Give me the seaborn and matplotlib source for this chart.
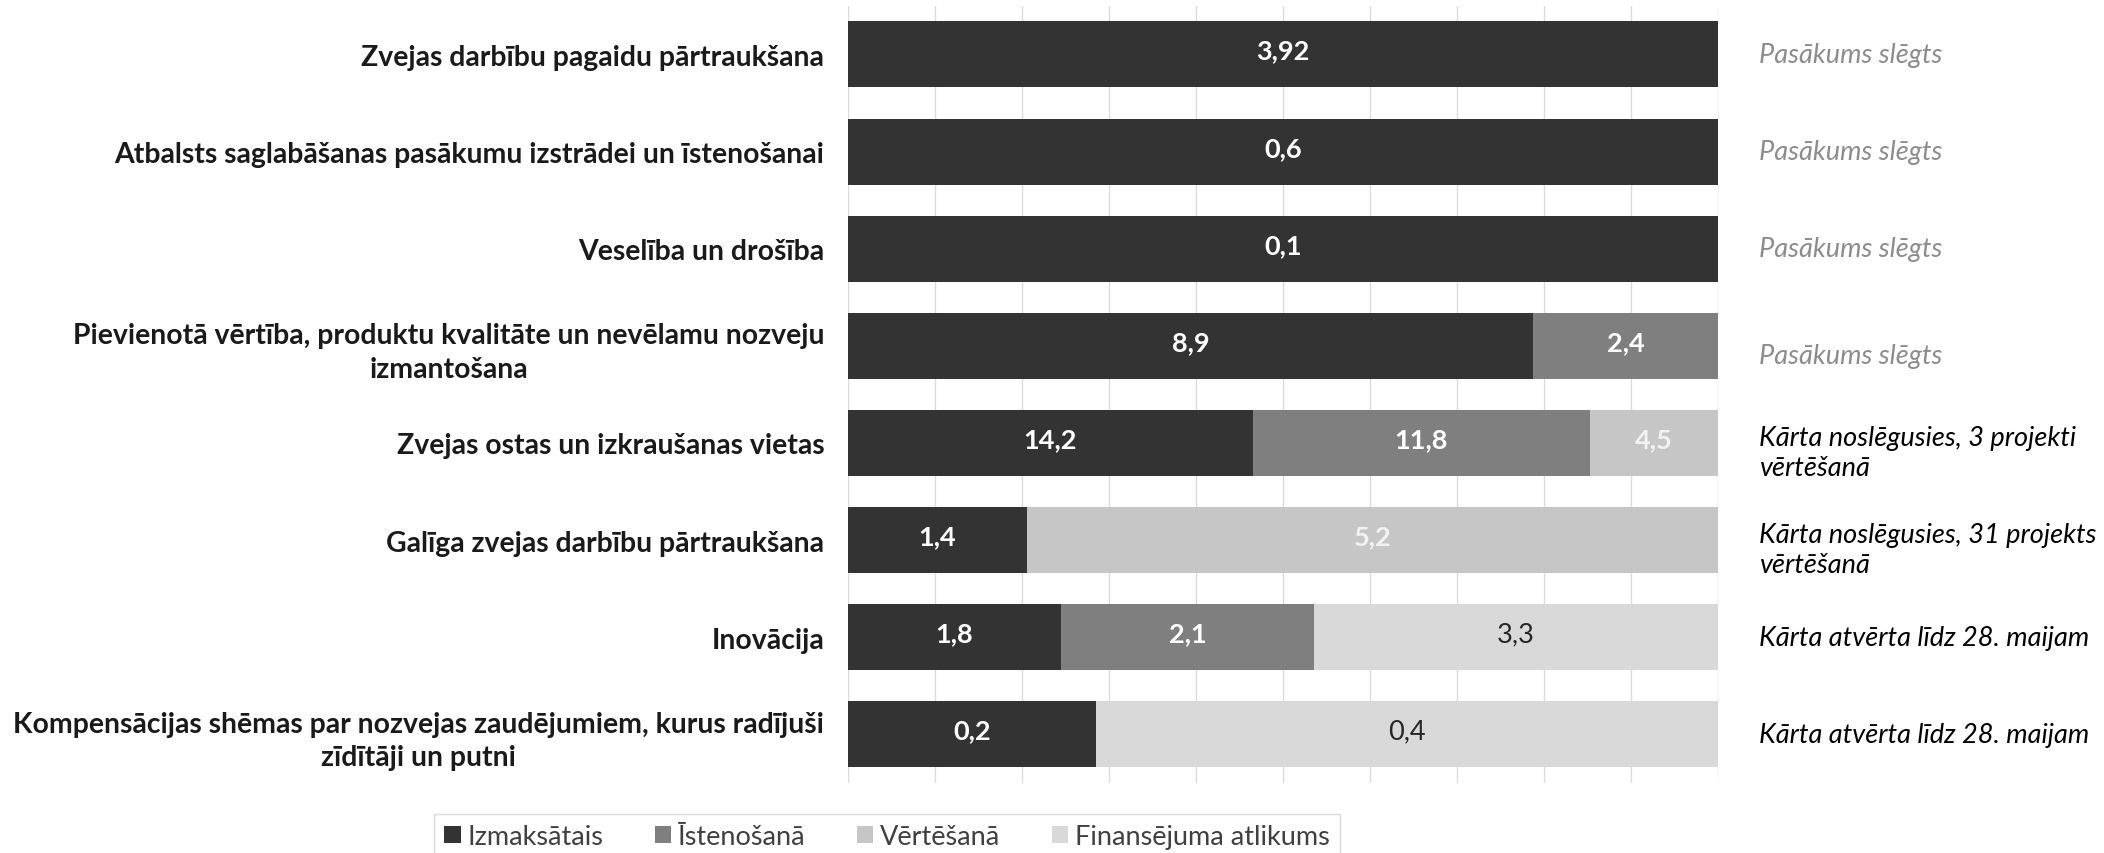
import numpy as np
import pandas as pd
import seaborn as sns
import matplotlib.pyplot as plt
from matplotlib.patches import Patch
import matplotlib.transforms as mtransforms

# categories (top to bottom)
categories = [
    "Zvejas darbību pagaidu pārtraukšana",
    "Atbalsts saglabāšanas pasākumu izstrādei un īstenošanai",
    "Veselība un drošība",
    "Pievienotā vērtība, produktu kvalitāte un nevēlamu nozveju\nizmantošana",
    "Zvejas ostas un izkraušanas vietas",
    "Galīga zvejas darbību pārtraukšana",
    "Inovācija",
    "Kompensācijas shēmas par nozvejas zaudējumiem, kurus radījuši\nzīdītāji un putni",
]

# values, mln EUR
izmaksatais = [3.92, 0.6, 0.1, 8.9, 14.2, 1.36, 1.76, 0.16]
istenosana = [0, 0, 0, 2.4, 11.8, 0, 2.1, 0]
vertesana = [0, 0, 0, 0, 4.5, 5.24, 0, 0]
atlikums = [0, 0, 0, 0, 0, 0, 3.34, 0.4]
label_decimals = [2, 1, 1, 1, 1, 1, 1, 1]

series_names = ["Izmaksātais", "Īstenošanā", "Vērtēšanā", "Finansējuma atlikums"]
series_colors = ["#333333", "#7f7f7f", "#c6c6c6", "#d9d9d9"]
label_colors = ["white", "white", "#f2f2f2", "#262626"]
label_weights = ["bold", "bold", "bold", "normal"]

status = [
    "Pasākums slēgts",
    "Pasākums slēgts",
    "Pasākums slēgts",
    "Pasākums slēgts",
    "Kārta noslēgusies, 3 projekti\nvērtēšanā",
    "Kārta noslēgusies, 31 projekts\nvērtēšanā",
    "Kārta atvērta līdz 28. maijam",
    "Kārta atvērta līdz 28. maijam",
]
status_colors = ["#8c8c8c"] * 4 + ["black"] * 4


def create_plot():
    sns.set_theme(style="white")
    plt.rcParams["font.family"] = ["Lato", "DejaVu Sans"]

    vals = np.array([izmaksatais, istenosana, vertesana, atlikums])
    pct = vals / vals.sum(axis=0) * 100
    cum = pct.cumsum(axis=0)

    fig = plt.figure(figsize=(21.04, 8.54), dpi=100)
    ax = fig.add_axes([0.403, 0.082, 0.4135, 0.910])

    # draw cumulative bars from the total down so the stacks overlap correctly
    for i in range(3, -1, -1):
        df = pd.DataFrame({"kategorija": categories, "proc": cum[i]})
        sns.barplot(data=df, y="kategorija", x="proc", color=series_colors[i],
                    width=0.68, saturation=1, ax=ax, zorder=2, linewidth=0)

    # value labels
    for i in range(4):
        for j in range(len(categories)):
            v = vals[i, j]
            if v <= 0:
                continue
            xc = cum[i, j] - pct[i, j] / 2
            txt = f"{v:.{label_decimals[j]}f}".replace(".", ",")
            ax.text(xc, j - 0.04, txt, ha="center", va="center", fontsize=19.5,
                    color=label_colors[i], fontweight=label_weights[i], zorder=3)

    ax.set_xlim(0, 100)
    ax.set_xticks(np.arange(0, 101, 10))
    ax.set_xticklabels([])
    ax.tick_params(axis="x", length=0)
    ax.tick_params(axis="y", length=0, pad=17, labelsize=20.4, labelcolor="#1a1a1a")
    ax.grid(axis="x", color="#dcdcdc", linewidth=1, zorder=0)
    ax.set_axisbelow(True)
    ax.set_xlabel("")
    ax.set_ylabel("")
    for s in ax.spines.values():
        s.set_visible(False)
    for t in ax.get_yticklabels():
        t.set_multialignment("center")
        t.set_fontweight("bold")
        t.set_linespacing(1.35)

    # status notes on the right
    trans = mtransforms.blended_transform_factory(ax.transAxes, ax.transData)
    for j, note in enumerate(status):
        dy = 0.1 if "\n" in note or j == 3 else 0
        ax.text(1.047, j + dy, note, transform=trans, ha="left", va="center",
                fontsize=19.5, style="italic", color=status_colors[j],
                linespacing=1.25)

    handles = [Patch(facecolor=c, edgecolor="none") for c in series_colors]
    fig.legend(handles, series_names, loc="upper center", ncol=4,
               bbox_to_anchor=(0.4215, 0.062), fontsize=19.5, frameon=True,
               fancybox=False, edgecolor="#d0d0d0", handlelength=0.6,
               handleheight=0.6, handletextpad=0.25, columnspacing=1.9,
               borderpad=0.4, labelcolor="#404040")

    fig.savefig("out.png", dpi=100, facecolor="white")


if __name__ == "__main__":
    create_plot()
